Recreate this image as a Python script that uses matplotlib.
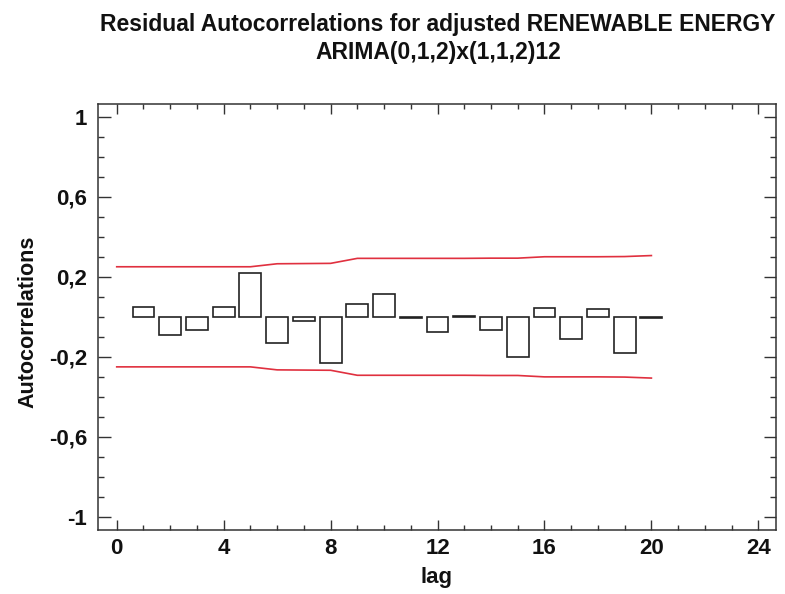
import matplotlib
matplotlib.use("Agg")
import matplotlib.pyplot as plt
from matplotlib.ticker import MultipleLocator, FixedLocator

# Residual autocorrelations by lag
lags = list(range(1, 21))
autocorr = [0.047, -0.092, -0.067, 0.047, 0.220, -0.130, -0.020, -0.233,
            0.064, 0.114, -0.008, -0.075, 0.002, -0.067, -0.203, 0.042,
            -0.113, 0.040, -0.183, -0.007]

# 95% probability limits, lags 0..20
limit_lags = list(range(0, 21))
limit_upper = [0.250, 0.250, 0.250, 0.250, 0.250, 0.250, 0.265, 0.266, 0.267,
               0.292, 0.292, 0.292, 0.292, 0.292, 0.293, 0.293, 0.300, 0.300,
               0.300, 0.301, 0.306]

y_ticks = [-1, -0.6, -0.2, 0.2, 0.6, 1]
y_tick_labels = ["-1", "-0,6", "-0,2", "0,2", "0,6", "1"]
x_ticks = [0, 4, 8, 12, 16, 20, 24]

plt.rcParams["font.family"] = ["Liberation Sans", "DejaVu Sans"]
plt.rcParams["font.weight"] = "bold"

W, H = 785, 594
fig = plt.figure(figsize=(W / 100, H / 100), dpi=100)
ax = fig.add_axes([0.1252, 0.1077, 0.8633, 0.7172])

frame_color = "#333333"
text_color = "#111111"
ax.bar(lags, autocorr, width=0.82, facecolor="white", edgecolor="#222222",
       linewidth=1.2, zorder=3)

red = "#e0303f"
ax.plot(limit_lags, limit_upper, color=red, linewidth=1.2, zorder=2)
ax.plot(limit_lags, [-v for v in limit_upper], color=red, linewidth=1.2, zorder=2)

ax.set_xlim(-0.69, 24.66)
ax.set_ylim(-1.065, 1.063)

ax.xaxis.set_major_locator(FixedLocator(x_ticks))
ax.xaxis.set_minor_locator(MultipleLocator(1))
ax.yaxis.set_major_locator(FixedLocator(y_ticks))
ax.set_yticklabels(y_tick_labels)
ax.yaxis.set_minor_locator(MultipleLocator(0.1))

ax.tick_params(axis="both", which="both", direction="in", top=True, right=True,
               color=frame_color, labelsize=16, labelcolor=text_color)
ax.tick_params(axis="x", which="major", length=7, width=1.0, pad=6)
ax.tick_params(axis="x", which="minor", length=3.5, width=1.0)
ax.tick_params(axis="y", which="major", length=9, width=1.0, pad=8)
ax.tick_params(axis="y", which="minor", length=4.5, width=1.0)

for sp in ax.spines.values():
    sp.set_color(frame_color)
    sp.set_linewidth(1.1)

# Axis titles
fig.text(437 / W, 1 - 577 / H, "lag", ha="center", va="center",
         fontsize=16, fontweight="bold", color=text_color)
fig.text(28 / W, 1 - 322 / H, "Autocorrelations", ha="center", va="center",
         rotation=90, fontsize=15.5, fontweight="bold", color=text_color)

# Chart title
fig.text(438 / W, 1 - 24 / H, "Residual Autocorrelations for adjusted RENEWABLE ENERGY",
         ha="center", va="center", fontsize=16.5, fontweight="bold", color=text_color)
fig.text(438 / W, 1 - 52 / H, "ARIMA(0,1,2)x(1,1,2)12", ha="center", va="center",
         fontsize=16.5, fontweight="bold", color=text_color)

fig.savefig("out.png", dpi=100)
